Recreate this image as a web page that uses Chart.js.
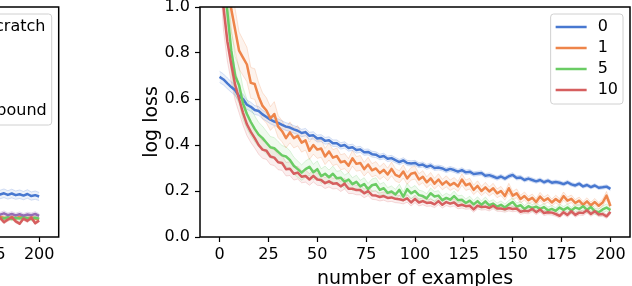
<!DOCTYPE html>
<html>
<head>
<meta charset="utf-8">
<script src="https://cdn.jsdelivr.net/npm/chart.js@4.4.1/dist/chart.umd.min.js"></script>
<style>
  html, body { margin: 0; padding: 0; background: #fff; overflow: hidden; }
  #wrap { position: relative; width: 632px; height: 286px; overflow: hidden; }
  canvas { position: absolute; top: 0; }
  #left { left: -440px; }
  #main { left: 0; }
</style>
</head>
<body>
<div id="wrap">
  <canvas id="left" width="500" height="300"></canvas>
  <canvas id="main" width="632" height="300"></canvas>
</div>
<script>
// x grid: number of examples (every 2nd step)
const examples = Array.from({ length: 101 }, (_, i) => i * 2)
const leftExamples = Array.from({ length: 16 }, (_, i) => 170 + i * 2)

const xTicks = [0, 25, 50, 75, 100, 125, 150, 175, 200]
const yTicks = [0, 0.2, 0.4, 0.6, 0.8, 1.0]

const seriesNames = ["0", "1", "5", "10"]
const seriesColors = ["#4878d0", "#ee854a", "#6acc64", "#d65f5f"]

const loss0 = [
  0.696, 0.685, 0.668, 0.652, 0.638, 0.612, 0.600, 0.575, 0.566, 0.552,
  0.548, 0.533, 0.522, 0.510, 0.502, 0.496, 0.488, 0.480, 0.476, 0.468,
  0.462, 0.452, 0.456, 0.440, 0.442, 0.428, 0.430, 0.418, 0.421, 0.408,
  0.408, 0.396, 0.400, 0.387, 0.390, 0.378, 0.381, 0.368, 0.370, 0.360,
  0.358, 0.348, 0.352, 0.340, 0.343, 0.334, 0.326, 0.333, 0.322, 0.320,
  0.322, 0.312, 0.315, 0.305, 0.311, 0.300, 0.302, 0.298, 0.290, 0.296,
  0.291, 0.284, 0.291, 0.281, 0.284, 0.274, 0.276, 0.278, 0.266, 0.269,
  0.263, 0.256, 0.263, 0.254, 0.264, 0.270, 0.257, 0.259, 0.248, 0.254,
  0.248, 0.242, 0.248, 0.238, 0.245, 0.236, 0.239, 0.236, 0.230, 0.238,
  0.229, 0.224, 0.232, 0.220, 0.226, 0.217, 0.224, 0.214, 0.216, 0.219,
  0.209
]
const loss1 = [
  1.45, 1.30, 1.12, 0.99, 0.90, 0.81, 0.78, 0.75, 0.67, 0.665,
  0.61, 0.57, 0.55, 0.515, 0.535, 0.48, 0.46, 0.43, 0.455, 0.43,
  0.44, 0.41, 0.42, 0.375, 0.40, 0.38, 0.385, 0.35, 0.372, 0.345,
  0.352, 0.325, 0.33, 0.31, 0.342, 0.318, 0.322, 0.295, 0.315, 0.29,
  0.298, 0.278, 0.292, 0.272, 0.296, 0.27, 0.262, 0.285, 0.255, 0.275,
  0.28, 0.25, 0.262, 0.238, 0.255, 0.232, 0.25, 0.228, 0.242, 0.225,
  0.235, 0.22, 0.25, 0.225, 0.232, 0.205, 0.222, 0.2, 0.216, 0.198,
  0.212, 0.19, 0.2, 0.178, 0.212, 0.18, 0.19, 0.165, 0.178, 0.16,
  0.17, 0.152, 0.176, 0.158, 0.168, 0.15, 0.165, 0.152, 0.178, 0.158,
  0.166, 0.148, 0.158, 0.14, 0.155, 0.138, 0.152, 0.136, 0.15, 0.18,
  0.135
]
const loss5 = [
  1.35, 1.12, 0.98, 0.81, 0.70, 0.66, 0.58, 0.535, 0.50, 0.47,
  0.445, 0.43, 0.41, 0.39, 0.386, 0.37, 0.355, 0.35, 0.335, 0.31,
  0.295, 0.28, 0.295, 0.305, 0.282, 0.295, 0.265, 0.275, 0.26, 0.275,
  0.255, 0.258, 0.24, 0.25, 0.23, 0.24, 0.22, 0.23, 0.208, 0.225,
  0.23, 0.205, 0.212, 0.192, 0.198, 0.185, 0.205, 0.175, 0.208, 0.19,
  0.2, 0.182, 0.178, 0.168, 0.19, 0.176, 0.18, 0.16, 0.17, 0.162,
  0.178, 0.16, 0.162, 0.148, 0.158, 0.142, 0.156, 0.14, 0.155, 0.138,
  0.145, 0.132, 0.14, 0.128, 0.142, 0.152, 0.132, 0.138, 0.122, 0.134,
  0.126, 0.132, 0.122, 0.13, 0.116, 0.122, 0.114, 0.128, 0.118, 0.128,
  0.115, 0.128, 0.122, 0.134, 0.118, 0.13, 0.112, 0.108, 0.12, 0.128,
  0.117
]
const loss10 = [
  1.32, 1.0, 0.85, 0.75, 0.66, 0.60, 0.54, 0.49, 0.457, 0.43,
  0.40, 0.38, 0.375, 0.35, 0.345, 0.325, 0.322, 0.295, 0.297, 0.275,
  0.28, 0.262, 0.265, 0.25, 0.266, 0.25, 0.248, 0.234, 0.242, 0.232,
  0.234, 0.22, 0.232, 0.21, 0.21, 0.204, 0.204, 0.19, 0.2, 0.182,
  0.18, 0.174, 0.178, 0.17, 0.172, 0.166, 0.164, 0.16, 0.168, 0.15,
  0.166, 0.15, 0.156, 0.148, 0.15, 0.142, 0.156, 0.14, 0.152, 0.145,
  0.15, 0.136, 0.14, 0.134, 0.136, 0.12, 0.136, 0.13, 0.132, 0.126,
  0.136, 0.124, 0.124, 0.12, 0.126, 0.122, 0.124, 0.11, 0.114, 0.112,
  0.122, 0.108, 0.12, 0.104, 0.108, 0.106, 0.1, 0.092, 0.108, 0.096,
  0.112, 0.096, 0.106, 0.104, 0.116, 0.1, 0.112, 0.098, 0.1, 0.09,
  0.109
]
// relative half-width of the shaded spread around each curve
const bandFrac = [0.035, 0.1, 0.12, 0.1]

// neighbouring panel, only its right end is inside the picture
const leftNames = ["from scratch", "1", "5", "10", "upper bound"]
const leftColors = ["#4878d0", "#ee854a", "#6acc64", "#d65f5f", "#956cb4"]
const leftScratch = [0.196, 0.188, 0.194, 0.186, 0.192, 0.185, 0.19, 0.183, 0.189, 0.182, 0.186, 0.18, 0.187, 0.178, 0.182, 0.176]
const leftOne = [0.088, 0.082, 0.09, 0.084, 0.08, 0.088, 0.083, 0.078, 0.086, 0.08, 0.088, 0.082, 0.079, 0.086, 0.08, 0.076]
const leftFive = [0.086, 0.08, 0.084, 0.078, 0.088, 0.082, 0.08, 0.086, 0.078, 0.084, 0.08, 0.087, 0.082, 0.078, 0.084, 0.08]
const leftTen = [0.074, 0.062, 0.08, 0.06, 0.072, 0.084, 0.064, 0.076, 0.086, 0.068, 0.058, 0.08, 0.07, 0.084, 0.06, 0.072]
const leftUpper = [0.1, 0.096, 0.102, 0.094, 0.1, 0.097, 0.103, 0.095, 0.1, 0.094, 0.099, 0.093, 0.098, 0.095, 0.1, 0.092]

Chart.defaults.font.family = '"DejaVu Sans"'
Chart.defaults.color = "#000"

function alpha(hex, a) {
  const n = parseInt(hex.slice(1), 16)
  return `rgba(${(n >> 16) & 255},${(n >> 8) & 255},${n & 255},${a})`
}

function lineSet(label, values, xs, color, order) {
  return {
    label,
    data: values.map((v, i) => ({ x: xs[i], y: v })),
    borderColor: color,
    borderWidth: 2.5,
    pointRadius: 0,
    tension: 0,
    fill: false,
    order,
    borderJoinStyle: "round",
  }
}

function bandSets(values, xs, frac, color) {
  const upper = {
    label: "",
    band: true,
    data: values.map((v, i) => ({ x: xs[i], y: v * (1 + frac) })),
    borderColor: alpha(color, 0.22),
    borderWidth: 1,
    pointRadius: 0,
    tension: 0,
    fill: false,
    order: 20,
  }
  const lower = Object.assign({}, upper, {
    data: values.map((v, i) => ({ x: xs[i], y: v * (1 - frac) })),
    fill: "-1",
    backgroundColor: alpha(color, 0.1),
  })
  return [upper, lower]
}

// axes box drawn over the lines, then a matplotlib style legend
const frameAndLegend = {
  id: "frameAndLegend",
  afterDatasetsDraw(chart, args, opts) {
    const { ctx, chartArea: a } = chart
    ctx.save()
    ctx.strokeStyle = "#000"
    ctx.lineWidth = 1.5
    ctx.strokeRect(a.left, a.top, a.right - a.left, a.bottom - a.top)

    ctx.font = '16px "DejaVu Sans"'
    const textW = Math.max(...opts.labels.map((t) => ctx.measureText(t).width))
    const right = a.right - 7
    const top = a.top + 7
    const w = 5 + 31 + 11 + textW + 5
    const h = 13 + 21 * (opts.labels.length - 1) + 14
    const left = right - w
    ctx.beginPath()
    ctx.roundRect(left, top, w, h, 3)
    ctx.fillStyle = "rgba(255,255,255,0.8)"
    ctx.fill()
    ctx.strokeStyle = "#d0d0d0"
    ctx.lineWidth = 1
    ctx.stroke()
    opts.labels.forEach((t, i) => {
      const y = top + 13 + 21 * i
      ctx.beginPath()
      ctx.moveTo(left + 5, y)
      ctx.lineTo(left + 36, y)
      ctx.strokeStyle = opts.colors[i]
      ctx.lineWidth = 2.5
      ctx.stroke()
      ctx.fillStyle = "#000"
      ctx.textBaseline = "middle"
      ctx.fillText(t, left + 47, y)
    })
    ctx.restore()
  },
}

function axes(yWidth, showY) {
  return {
    x: {
      type: "linear",
      min: -10,
      max: 210,
      afterBuildTicks: (s) => { s.ticks = xTicks.map((v) => ({ value: v })) },
      afterFit: (s) => { s.height = 63; s.paddingLeft = 0; s.paddingRight = 0 },
      ticks: { font: { size: 16 }, padding: 3, maxRotation: 0, callback: (v) => String(v) },
      grid: { drawOnChartArea: false, drawTicks: true, tickLength: 5, tickColor: "#000", tickWidth: 1.2 },
      border: { display: false },
      title: { display: true, text: "number of examples", font: { size: 19 }, padding: { top: 0, bottom: 10 } },
    },
    y: {
      min: 0,
      max: 1,
      afterBuildTicks: (s) => { s.ticks = yTicks.map((v) => ({ value: v })) },
      afterFit: (s) => { s.width = yWidth; s.paddingTop = 0; s.paddingBottom = 0 },
      ticks: { display: showY, font: { size: 16 }, padding: 5, callback: (v) => v.toFixed(1) },
      grid: { drawOnChartArea: false, drawTicks: showY, tickLength: 5, tickColor: "#000", tickWidth: 1.2 },
      border: { display: false },
      title: { display: showY, text: "log loss", font: { size: 19 }, padding: { top: 11, bottom: 0 } },
    },
  }
}

// main panel
const mainSets = []
const mainLoss = [loss0, loss1, loss5, loss10]
mainLoss.forEach((vals, k) => mainSets.push(...bandSets(vals, examples, bandFrac[k], seriesColors[k])))
mainLoss.forEach((vals, k) => mainSets.push(lineSet(seriesNames[k], vals, examples, seriesColors[k], 4 - k)))

new Chart(document.getElementById("main"), {
  type: "line",
  data: { datasets: mainSets },
  options: {
    responsive: false,
    animation: false,
    devicePixelRatio: 1,
    layout: { padding: { left: 130, right: 2, top: 7, bottom: 0 } },
    scales: axes(70, true),
    plugins: {
      legend: { display: false },
      tooltip: { enabled: false },
      frameAndLegend: { labels: seriesNames, colors: seriesColors },
    },
  },
  plugins: [frameAndLegend],
})

// left panel (cut off by the picture edge)
const leftSets = []
const leftLoss = [leftScratch, leftOne, leftFive, leftTen, leftUpper]
leftLoss.forEach((vals, k) => leftSets.push(...bandSets(vals, leftExamples, 0.1, leftColors[k])))
leftLoss.forEach((vals, k) => leftSets.push(lineSet(leftNames[k], vals, leftExamples, leftColors[k], 5 - k)))

new Chart(document.getElementById("left"), {
  type: "line",
  data: { datasets: leftSets },
  options: {
    responsive: false,
    animation: false,
    devicePixelRatio: 1,
    layout: { padding: { left: 0, right: 1.3, top: 7, bottom: 0 } },
    scales: axes(68.7, false),
    plugins: {
      legend: { display: false },
      tooltip: { enabled: false },
      frameAndLegend: { labels: leftNames, colors: leftColors },
    },
  },
  plugins: [frameAndLegend],
})
</script>
</body>
</html>
